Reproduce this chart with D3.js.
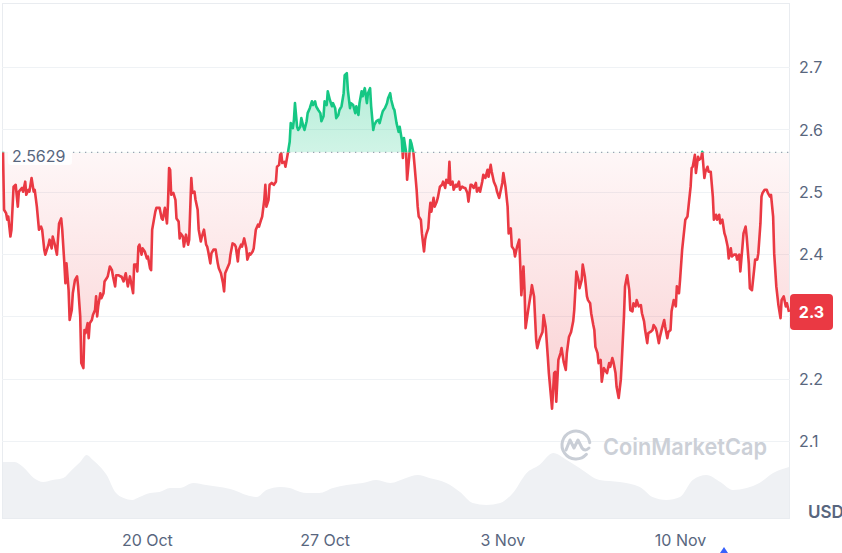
<!DOCTYPE html>
<html><head><meta charset="utf-8">
<script src="https://cdn.jsdelivr.net/npm/d3@7"></script>
<style>html,body{margin:0;padding:0;background:#fff;overflow:hidden}svg{display:block;font-family:Inter,"Noto Sans",sans-serif}</style>
</head><body><svg id="chart" width="842" height="553"></svg>
<script>
// ---- data (hours since 14 Oct 2025 00:00 UTC, price in USD) ----
const startTime = Date.UTC(2025, 9, 14, 0, 0);
const pricePoints = [
[8,2.564],[9,2.471],[11,2.465],[12,2.455],[13,2.460],[15,2.428],[16,2.439],[18,2.508],[20,2.511],[22,2.476],
[23,2.500],[26,2.506],[27,2.500],[29,2.516],[30,2.495],[32,2.503],[33,2.500],[35,2.522],[37,2.500],[38,2.503],
[40,2.476],[42,2.439],[44,2.444],[45,2.439],[47,2.407],[48,2.399],[51,2.415],[52,2.423],[54,2.409],[55,2.428],
[57,2.415],[59,2.399],[61,2.449],[63,2.457],[64,2.439],[66,2.385],[67,2.353],[68,2.385],[70,2.342],[71,2.294],
[73,2.310],[74,2.337],[76,2.358],[78,2.364],[79,2.348],[81,2.300],[82,2.225],[84,2.217],[85,2.278],[86,2.273],
[88,2.289],[89,2.265],[90,2.289],[92,2.294],[93,2.302],[95,2.310],[96,2.332],[97,2.300],[98,2.316],[100,2.337],
[101,2.329],[103,2.337],[104,2.356],[106,2.361],[107,2.364],[109,2.380],[111,2.374],[112,2.364],[114,2.348],[115,2.366],
[117,2.366],[119,2.364],[120,2.364],[122,2.356],[124,2.369],[126,2.348],[128,2.364],[131,2.337],[132,2.383],[134,2.383],
[135,2.372],[136,2.412],[137,2.415],[139,2.399],[140,2.409],[142,2.404],[144,2.393],[145,2.396],[147,2.377],[148,2.374],
[149,2.439],[152,2.468],[153,2.474],[156,2.474],[158,2.457],[159,2.455],[161,2.474],[163,2.449],[164,2.482],[165,2.538],
[166,2.535],[167,2.495],[169,2.498],[171,2.487],[172,2.457],[174,2.452],[175,2.425],[176,2.433],[178,2.428],[179,2.412],
[181,2.431],[183,2.415],[184,2.423],[186,2.522],[187,2.498],[189,2.500],[190,2.487],[192,2.471],[193,2.439],[195,2.420],
[196,2.428],[198,2.439],[200,2.415],[201,2.412],[202,2.404],[204,2.385],[205,2.401],[207,2.407],[209,2.407],[211,2.385],
[212,2.377],[214,2.369],[216,2.353],[217,2.340],[218,2.369],[220,2.377],[222,2.385],[223,2.399],[225,2.417],[227,2.415],
[228,2.412],[230,2.388],[231,2.407],[233,2.415],[234,2.412],[236,2.425],[238,2.409],[239,2.391],[241,2.401],[242,2.399],
[244,2.404],[245,2.409],[247,2.439],[249,2.447],[250,2.444],[252,2.455],[253,2.460],[255,2.487],[256,2.511],[257,2.476],
[259,2.487],[260,2.511],[262,2.514],[264,2.511],[266,2.516],[267,2.540],[269,2.543],[270,2.559],[271,2.562],[272,2.546],
[274,2.548],[275,2.540],[277,2.559],[279,2.580],[280,2.610],[282,2.602],[283,2.615],[284,2.642],[286,2.604],[287,2.599],
[289,2.604],[290,2.618],[292,2.604],[293,2.599],[295,2.613],[296,2.626],[298,2.634],[300,2.645],[301,2.639],[303,2.645],
[304,2.637],[306,2.631],[308,2.626],[309,2.613],[311,2.621],[312,2.645],[314,2.639],[315,2.661],[317,2.647],[319,2.637],
[320,2.642],[322,2.634],[323,2.618],[325,2.623],[326,2.631],[328,2.637],[330,2.658],[331,2.687],[333,2.690],[334,2.663],
[336,2.634],[337,2.642],[339,2.639],[341,2.626],[342,2.637],[344,2.623],[345,2.642],[347,2.661],[348,2.653],[350,2.666],
[352,2.642],[353,2.658],[355,2.666],[356,2.637],[358,2.599],[359,2.607],[361,2.613],[363,2.615],[364,2.610],[366,2.623],
[367,2.629],[369,2.634],[371,2.642],[372,2.650],[374,2.658],[375,2.647],[377,2.634],[378,2.631],[380,2.610],[382,2.596],
[383,2.604],[385,2.583],[386,2.554],[387,2.586],[388,2.575],[389,2.564],[390,2.519],[392,2.556],[393,2.583],[394,2.578],
[396,2.562],[397,2.543],[399,2.503],[400,2.476],[401,2.460],[403,2.455],[404,2.433],[406,2.404],[407,2.423],[408,2.431],
[410,2.441],[411,2.465],[412,2.482],[413,2.468],[415,2.490],[416,2.476],[418,2.484],[419,2.490],[421,2.508],[423,2.511],
[424,2.516],[426,2.506],[427,2.519],[429,2.514],[430,2.548],[431,2.511],[433,2.516],[434,2.503],[436,2.511],[437,2.508],
[439,2.516],[440,2.503],[442,2.508],[444,2.506],[445,2.506],[447,2.498],[448,2.484],[450,2.511],[451,2.511],[453,2.506],
[455,2.514],[456,2.500],[458,2.506],[459,2.500],[461,2.516],[462,2.527],[464,2.522],[466,2.535],[467,2.524],[469,2.543],
[470,2.532],[472,2.516],[474,2.508],[475,2.500],[477,2.490],[478,2.498],[480,2.514],[481,2.530],[483,2.508],[485,2.476],
[486,2.433],[488,2.441],[489,2.412],[491,2.407],[492,2.396],[494,2.412],[496,2.423],[497,2.380],[498,2.334],[500,2.380],
[501,2.342],[502,2.281],[504,2.305],[505,2.316],[507,2.337],[508,2.350],[510,2.332],[512,2.262],[513,2.249],[515,2.262],
[516,2.267],[518,2.275],[519,2.302],[521,2.283],[523,2.235],[524,2.209],[526,2.171],[527,2.152],[529,2.209],[530,2.211],
[531,2.163],[533,2.230],[535,2.241],[536,2.249],[538,2.227],[540,2.214],[541,2.241],[543,2.267],[545,2.275],[547,2.292],
[548,2.310],[550,2.372],[552,2.358],[553,2.345],[555,2.358],[556,2.383],[558,2.364],[560,2.332],[561,2.326],[563,2.321],
[564,2.305],[566,2.286],[567,2.278],[568,2.251],[570,2.241],[571,2.225],[573,2.230],[574,2.195],[576,2.217],[577,2.214],
[579,2.209],[581,2.225],[582,2.219],[584,2.233],[585,2.227],[587,2.209],[588,2.187],[590,2.169],[592,2.198],[593,2.230],
[595,2.300],[596,2.348],[598,2.366],[600,2.342],[601,2.310],[603,2.308],[604,2.321],[606,2.316],[607,2.326],[609,2.316],
[611,2.318],[612,2.305],[614,2.292],[615,2.278],[617,2.257],[618,2.273],[620,2.275],[622,2.278],[623,2.286],[625,2.281],
[626,2.275],[628,2.257],[629,2.267],[631,2.281],[633,2.294],[634,2.283],[636,2.265],[637,2.275],[639,2.278],[640,2.308],
[642,2.326],[644,2.316],[645,2.348],[647,2.337],[648,2.358],[650,2.407],[651,2.423],[653,2.455],[655,2.460],[656,2.476],
[658,2.508],[659,2.538],[660,2.540],[662,2.559],[663,2.530],[665,2.556],[666,2.551],[668,2.554],[669,2.564],[671,2.522],
[672,2.532],[674,2.540],[675,2.532],[677,2.532],[679,2.492],[680,2.455],[682,2.463],[683,2.455],[685,2.463],[686,2.449],
[688,2.455],[690,2.433],[691,2.428],[693,2.412],[694,2.393],[696,2.409],[697,2.396],[699,2.399],[701,2.399],[702,2.391],
[704,2.399],[705,2.372],[707,2.412],[708,2.433],[710,2.444],[711,2.428],[713,2.385],[714,2.345],[716,2.342],[718,2.374],
[719,2.391],[721,2.391],[722,2.401],[724,2.449],[725,2.492],[726,2.498],[728,2.503],[730,2.503],[731,2.498],[733,2.492],
[734,2.495],[736,2.460],[737,2.401],[739,2.348],[741,2.318],[743,2.297],[744,2.326],[746,2.332],[748,2.316],[749,2.321],
[751,2.307]
];
// volume (hours since start, billions USD)
const volumePoints = [
[8,5.6],[19,5.6],[27,5.1],[37,4.0],[46,3.6],[55,3.8],[65,4.0],[73,4.8],[81,5.6],[87,6.3],
[93,5.8],[100,5.1],[106,4.3],[114,2.6],[122,2.0],[130,1.8],[137,2.1],[147,2.5],[156,2.6],[166,3.0],
[175,3.0],[188,3.5],[200,3.3],[213,3.1],[226,2.8],[238,2.3],[248,2.1],[257,2.8],[270,3.1],[279,3.0],
[289,2.6],[295,2.5],[307,2.5],[320,3.0],[333,3.3],[348,3.5],[361,3.8],[374,3.5],[389,4.0],[400,4.3],
[411,4.0],[427,3.5],[440,2.6],[452,1.5],[465,1.3],[478,1.5],[490,2.5],[503,4.5],[515,5.3],[528,6.5],
[541,5.8],[553,5.0],[572,3.8],[591,3.6],[610,3.1],[622,2.1],[635,1.8],[648,2.1],[660,3.8],[673,4.3],
[686,3.6],[698,2.8],[711,3.0],[723,3.5],[736,4.5],[751,5.1]
];
const yTickValues = [2.1, 2.2, 2.3, 2.4, 2.5, 2.6, 2.7];
const xTickDates = ["2025-10-20", "2025-10-27", "2025-11-03", "2025-11-10"];
const xTickLabels = ["20 Oct", "27 Oct", "3 Nov", "10 Nov"];
const openPrice = 2.5629;
const currency = "USD";
const brandName = "CoinMarketCap";

// ---- setup ----
const RED = "#ea3943", GREEN = "#16c784", TXT = "#58667e";
const toDate = h => new Date(startTime + h * 3600e3);
const prices = pricePoints.map(([h, v]) => ({ t: toDate(h), v }));
const volumes = volumePoints.map(([h, v]) => ({ t: toDate(h), v }));
const last = prices[prices.length - 1];

const svg = d3.select("#chart");
const plotL = 2, plotR = 790, plotT = 3, plotB = 518;

const x = d3.scaleUtc().domain([prices[0].t, last.t]).range([3, 789]);
const y = d3.scaleLinear().domain([2.1, 2.7]).range([441, 67]);
const yVol = d3.scaleLinear().domain([0, 8]).range([plotB, 438]);
const baseY = y(openPrice);

const defs = svg.append("defs");
const gRed = defs.append("linearGradient").attr("id", "gRed").attr("gradientUnits", "userSpaceOnUse")
  .attr("x1", 0).attr("x2", 0).attr("y1", baseY).attr("y2", y(2.15));
gRed.append("stop").attr("offset", 0).attr("stop-color", RED).attr("stop-opacity", 0.04);
gRed.append("stop").attr("offset", 1).attr("stop-color", RED).attr("stop-opacity", 0.24);
const gGreen = defs.append("linearGradient").attr("id", "gGreen").attr("gradientUnits", "userSpaceOnUse")
  .attr("x1", 0).attr("x2", 0).attr("y1", baseY).attr("y2", y(2.7));
gGreen.append("stop").attr("offset", 0).attr("stop-color", GREEN).attr("stop-opacity", 0.2);
gGreen.append("stop").attr("offset", 1).attr("stop-color", GREEN).attr("stop-opacity", 0.34);
defs.append("clipPath").attr("id", "cAbove").append("rect")
  .attr("x", plotL).attr("y", plotT).attr("width", plotR - plotL).attr("height", baseY - plotT);
defs.append("clipPath").attr("id", "cBelow").append("rect")
  .attr("x", plotL).attr("y", baseY).attr("width", plotR - plotL).attr("height", plotB - baseY);

// frame
svg.append("rect").attr("x", plotL + 0.5).attr("y", plotT + 0.5).attr("width", plotR - plotL - 1).attr("height", plotB - plotT)
  .attr("fill", "none").attr("stroke", "#e9ecf0").attr("stroke-width", 1);

// grid lines
svg.append("g").selectAll("line").data(yTickValues).join("line")
  .attr("x1", plotL).attr("x2", plotR).attr("y1", d => Math.round(y(d)) + 0.5).attr("y2", d => Math.round(y(d)) + 0.5)
  .attr("stroke", "#eff2f5").attr("stroke-width", 1);

// volume
svg.append("path").datum(volumes)
  .attr("d", d3.area().x(d => x(d.t)).y0(plotB).y1(d => yVol(d.v)).curve(d3.curveMonotoneX))
  .attr("fill", "#eff1f4");

// watermark
const wm = svg.append("g").attr("fill", "none").attr("stroke", "#c9ced6").attr("stroke-width", 3).attr("stroke-linecap", "round").attr("stroke-linejoin", "round");
wm.append("path").attr("d", d3.arc()({ innerRadius: 14, outerRadius: 14, startAngle: 2.3, endAngle: 2.3 + 2 * Math.PI - 0.9 })).attr("transform", "translate(576,445)");
wm.append("path").attr("d", "M566,450 L570,440 L574,448 L578,440 L582,448 Q585,452 589,448");
svg.append("text").attr("x", 603).attr("y", 455).attr("font-size", 23).attr("font-weight", 600)
  .attr("fill", "#ccd0d7").attr("textLength", 164).attr("lengthAdjust", "spacingAndGlyphs").text(brandName);

// area fills
const area = d3.area().x(d => x(d.t)).y0(baseY).y1(d => y(d.v));
svg.append("path").datum(prices).attr("d", area).attr("fill", "url(#gGreen)").attr("clip-path", "url(#cAbove)");
svg.append("path").datum(prices).attr("d", area).attr("fill", "url(#gRed)").attr("clip-path", "url(#cBelow)");

// baseline (open price)
svg.append("line").attr("x1", 73).attr("x2", plotR).attr("y1", baseY).attr("y2", baseY)
  .attr("stroke", "#9aa3b2").attr("stroke-width", 1.3).attr("stroke-dasharray", "1.3 4.7");

// price line
const line = d3.line().x(d => x(d.t)).y(d => y(d.v));
svg.append("path").datum(prices).attr("d", line).attr("fill", "none").attr("stroke", GREEN).attr("stroke-width", 2.6)
  .attr("stroke-linejoin", "round").attr("clip-path", "url(#cAbove)");
svg.append("path").datum(prices).attr("d", line).attr("fill", "none").attr("stroke", RED).attr("stroke-width", 2.6)
  .attr("stroke-linejoin", "round").attr("clip-path", "url(#cBelow)");

// open price label
svg.append("rect").attr("x", 8).attr("y", 143).attr("width", 64).attr("height", 22).attr("rx", 3).attr("fill", "#fff").attr("opacity", 0.85);
svg.append("text").attr("x", 12).attr("y", 161.5).attr("font-size", 16).attr("fill", TXT).text(openPrice.toFixed(4));

// y axis
const yAxis = svg.append("g").attr("transform", `translate(${plotR},0)`)
  .call(d3.axisRight(y).tickValues(yTickValues).tickSize(0).tickPadding(9).tickFormat(d3.format(".1f")));
yAxis.select(".domain").remove();
yAxis.selectAll("text").attr("font-size", 16).attr("font-family", "Inter").attr("fill", TXT).attr("dy", "0.36em");

// x axis
const xAxis = svg.append("g").attr("transform", `translate(0,535)`)
  .call(d3.axisBottom(x).tickValues(xTickDates.map(s => new Date(s + "T00:00:00Z"))).tickSize(0).tickPadding(0)
    .tickFormat((d, i) => xTickLabels[i]));
xAxis.select(".domain").remove();
xAxis.selectAll("text").attr("font-size", 16).attr("font-family", "Inter").attr("fill", TXT);

// currency
svg.append("text").attr("x", 808).attr("y", 518).attr("font-size", 17).attr("font-weight", 600).attr("fill", TXT).text(currency);

// last price tag
const ly = y(last.v);
svg.append("rect").attr("x", plotR).attr("y", ly - 18).attr("width", 43).attr("height", 36).attr("rx", 4).attr("fill", RED);
svg.append("text").attr("x", plotR + 21.5).attr("y", ly + 6).attr("text-anchor", "middle").attr("font-size", 16)
  .attr("font-weight", 700).attr("fill", "#fff").text(d3.format(".1f")(last.v));

// small event marker at bottom
svg.append("path").attr("d", "M720,553 L724,547 L728,553 Z").attr("fill", "#3861fb");
</script></body></html>
